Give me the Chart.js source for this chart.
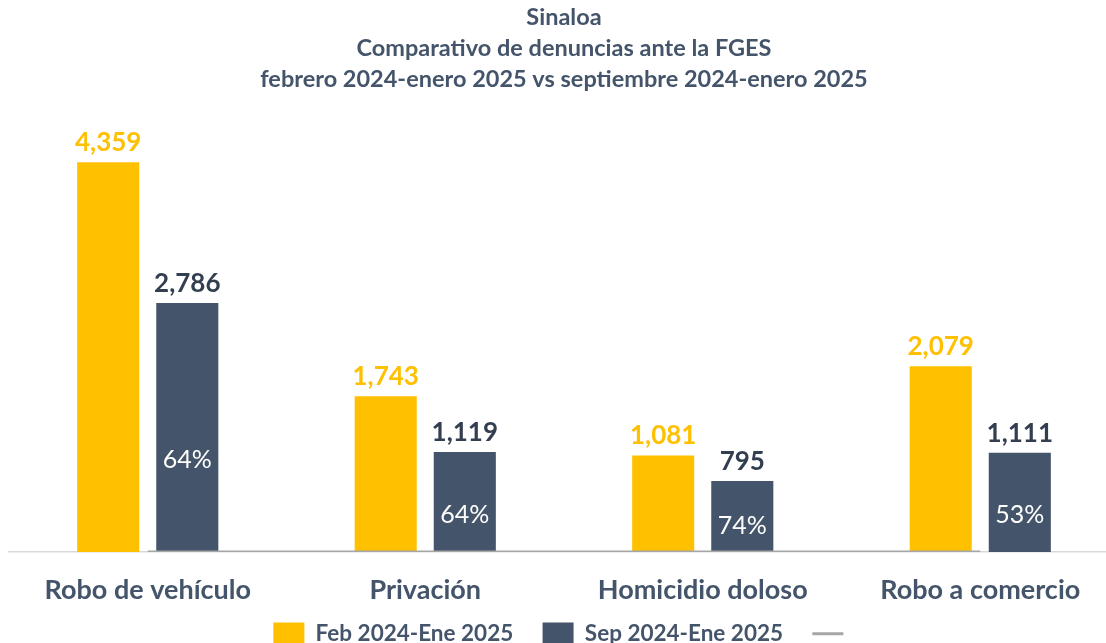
<!DOCTYPE html>
<html>
<head>
<meta charset="utf-8">
<script src="https://cdn.jsdelivr.net/npm/chart.js@4/dist/chart.umd.min.js"></script>
<style>
  body { margin: 0; background: #fff; overflow: hidden; }
  #wrap { width: 1106px; height: 643px; overflow: hidden; }
</style>
</head>
<body>
<div id="wrap"><canvas id="denunciasChart" width="1130" height="655"></canvas></div>
<script>
  var categories = ["Robo de vehículo", "Privación", "Homicidio doloso", "Robo a comercio"];
  var febEne = [4359, 1743, 1081, 2079];
  var sepEne = [2786, 1119, 795, 1111];
  var porcentajes = [64, 64, 74, 53];
  var lineaBase = [0, 0, 0, 0];

  var amarillo = "#FFC000";
  var azul = "#44546A";
  var texto = "#44546A";

  // etiquetas de valor encima de las barras y % dentro de la barra oscura
  var etiquetas = {
    id: "etiquetas",
    afterDatasetsDraw: function (chart) {
      var ctx = chart.ctx;
      ctx.save();
      ctx.textAlign = "center";
      [0, 1].forEach(function (i) {
        var meta = chart.getDatasetMeta(i);
        var values = chart.data.datasets[i].data;
        meta.data.forEach(function (bar, j) {
          ctx.textBaseline = "alphabetic";
          ctx.font = "bold 26px Lato";
          ctx.fillStyle = i === 0 ? amarillo : "#333F50";
          ctx.fillText(values[j].toLocaleString("en-US"), bar.x, bar.y - 11);
          if (i === 1) {
            var h = bar.base - bar.y;
            ctx.font = "25px Lato";
            ctx.fillStyle = "#FFFFFF";
            ctx.textBaseline = "middle";
            ctx.fillText(porcentajes[j] + "%", bar.x, bar.base - h * 0.37);
          }
        });
      });
      ctx.restore();
    }
  };

  var ctx = document.getElementById("denunciasChart").getContext("2d");
  var chart = new Chart(ctx, {
    data: {
      labels: categories,
      datasets: [
        {
          type: "bar",
          label: "Feb 2024-Ene 2025",
          data: febEne,
          backgroundColor: amarillo,
          categoryPercentage: 0.57,
          barPercentage: 0.785,
          order: 2
        },
        {
          type: "bar",
          label: "Sep 2024-Ene 2025",
          data: sepEne,
          backgroundColor: azul,
          categoryPercentage: 0.57,
          barPercentage: 0.785,
          order: 2
        },
        {
          type: "line",
          label: "",
          data: lineaBase,
          borderColor: "#A6A6A6",
          borderWidth: 3,
          pointRadius: 0,
          order: 1
        }
      ]
    },
    options: {
      responsive: false,
      animation: false,
      layout: { padding: { left: 9, right: 11, top: 0, bottom: 0 } },
      scales: {
        x: {
          grid: { display: false },
          border: { display: true, color: "#D9D9D9", width: 1.5 },
          ticks: { color: texto, font: { family: "Lato", size: 27, weight: "bold", lineHeight: 1.2 }, padding: 14 }
        },
        y: {
          display: false,
          min: 0,
          max: 5000
        }
      },
      plugins: {
        title: {
          display: true,
          text: ["Sinaloa", "Comparativo de denuncias ante la FGES", "febrero 2024-enero 2025 vs septiembre 2024-enero 2025"],
          color: texto,
          font: { family: "Lato", size: 23.5, weight: "bold", lineHeight: 1.32 },
          padding: { top: 2, bottom: 10 }
        },
        legend: {
          position: "bottom",
          labels: {
            color: texto,
            font: { family: "Lato", size: 22.5, weight: "bold" },
            usePointStyle: true,
            pointStyleWidth: 31,
            padding: 2,
            sort: function (a, b) { return a.datasetIndex - b.datasetIndex; },
            generateLabels: function (chart) {
              var items = Chart.defaults.plugins.legend.labels.generateLabels(chart);
              items.forEach(function (it) {
                var ds = chart.data.datasets[it.datasetIndex];
                if (ds.type === "line") {
                  it.pointStyle = "line";
                  it.strokeStyle = "#A6A6A6";
                  it.lineWidth = 3;
                } else {
                  it.pointStyle = "rect";
                  it.text = it.text + "     ";
                }
              });
              return items;
            }
          }
        },
        tooltip: { enabled: false }
      }
    },
    plugins: [etiquetas]
  });
</script>
</body>
</html>
